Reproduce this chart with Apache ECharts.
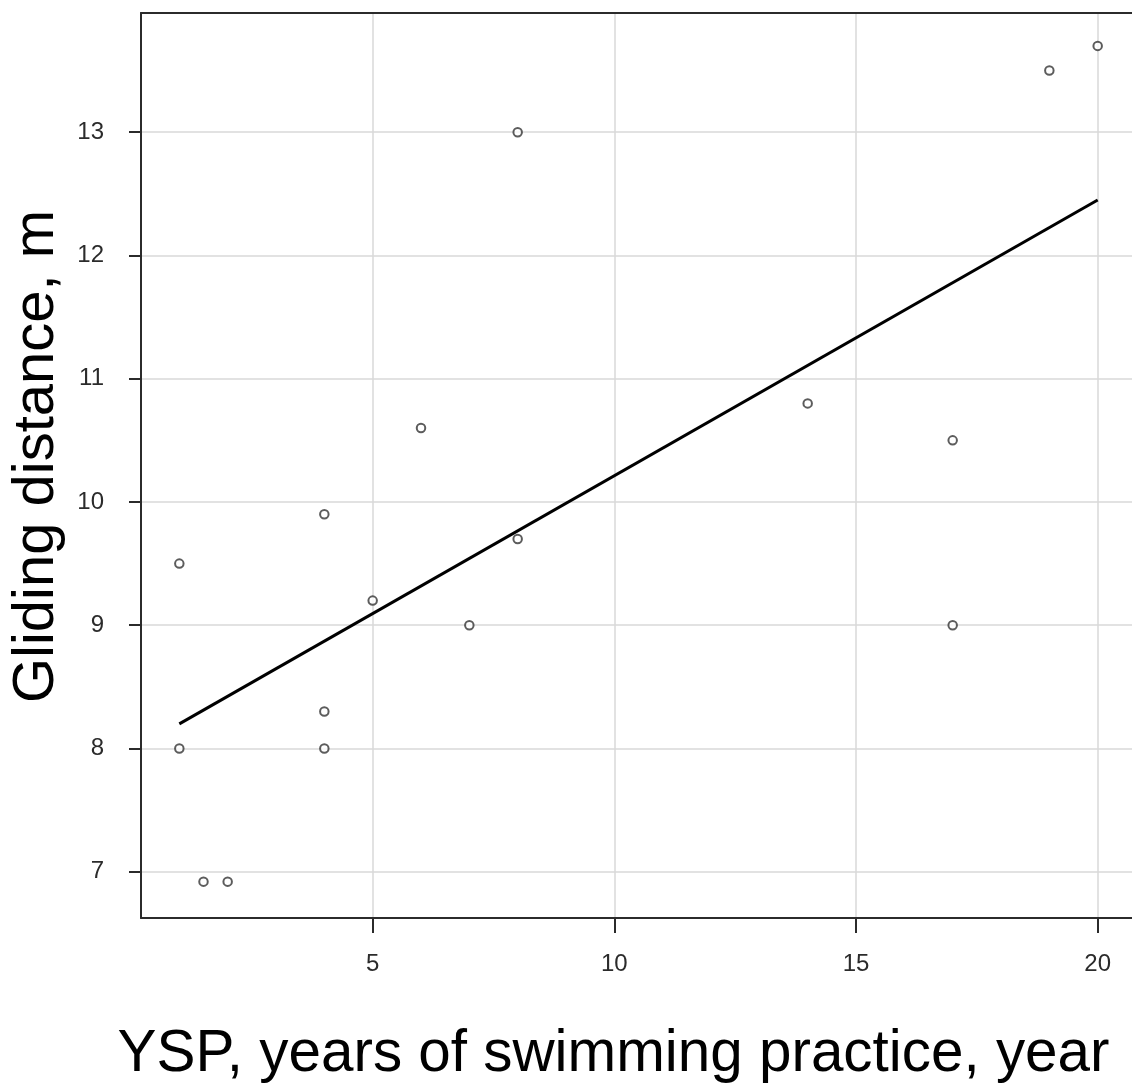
<!DOCTYPE html>
<html>
<head>
<meta charset="utf-8">
<title>Gliding distance vs YSP</title>
<script src="https://cdn.jsdelivr.net/npm/echarts@6/dist/echarts.min.js"></script>
<style>
  html, body { margin: 0; padding: 0; background: #ffffff; }
  #chart { width: 1132px; height: 1090px; }
</style>
</head>
<body>
<div id="chart"></div>
<script>
// Years of swimming practice and gliding distance for each swimmer
const ysp    = [1,   1,   1.5,  2,    4,   4,   4,   5,   6,    7,   8,    8,   14,   17,   17,  19,   20];
const glide  = [9.5, 8.0, 6.92, 6.92, 9.9, 8.3, 8.0, 9.2, 10.6, 9.0, 13.0, 9.7, 10.8, 10.5, 9.0, 13.5, 13.7];

// End points of the least-squares line
const fitX = [1, 20];
const fitY = [8.2, 12.45];

// Tick positions
const xTicks = [5, 10, 15, 20];
const yTicks = [7, 8, 9, 10, 11, 12, 13];

const xRange = [0.207, 20.71];
const yRange = [6.625, 13.967];

const FONT = '"Liberation Sans", Arial, sans-serif';
const AXIS_COLOR = '#2b2b2b';

const chart = echarts.init(document.getElementById('chart'), null, { renderer: 'canvas' });

chart.setOption({
  backgroundColor: '#ffffff',
  animation: false,
  grid: { left: 141, right: 0, top: 13, bottom: 172, containLabel: false },
  xAxis: [
    {
      type: 'value',
      position: 'bottom',
      min: xRange[0],
      max: xRange[1],
      name: 'YSP, years of swimming practice, year',
      nameLocation: 'middle',
      nameGap: 108,
      nameTextStyle: { fontFamily: FONT, fontSize: 58.4, color: '#000000', padding: [0, 46, 0, 0] },
      axisLine: { show: true, onZero: false, lineStyle: { color: AXIS_COLOR, width: 2 } },
      axisTick: { show: true, length: 15, customValues: xTicks, lineStyle: { color: AXIS_COLOR, width: 2 } },
      axisLabel: { show: true, customValues: xTicks, margin: 34, fontFamily: FONT, fontSize: 24, color: '#2b2b2b' },
      splitLine: { show: true, lineStyle: { color: '#d9d9d9', width: 1.5 } }
    },
    {
      type: 'value',
      position: 'top',
      min: xRange[0],
      max: xRange[1],
      axisLine: { show: true, onZero: false, lineStyle: { color: AXIS_COLOR, width: 2 } },
      axisTick: { show: false },
      axisLabel: { show: false },
      splitLine: { show: false }
    }
  ],
  yAxis: {
    type: 'value',
    min: yRange[0],
    max: yRange[1],
    name: 'Gliding distance, m',
    nameLocation: 'middle',
    nameGap: 69,
    nameRotate: 90,
    nameTextStyle: { fontFamily: FONT, fontSize: 58, color: '#000000', padding: [0, 0, 0, 18] },
    axisLine: { show: true, onZero: false, lineStyle: { color: AXIS_COLOR, width: 2 } },
    axisTick: { show: true, length: 12, customValues: yTicks, lineStyle: { color: AXIS_COLOR, width: 2 } },
    axisLabel: { show: true, customValues: yTicks, margin: 37, fontFamily: FONT, fontSize: 24, color: '#2b2b2b' },
    splitLine: { show: true, lineStyle: { color: '#d9d9d9', width: 1.5 } }
  },
  series: [
    {
      type: 'line',
      data: fitX.map((x, i) => [x, fitY[i]]),
      showSymbol: false,
      symbol: 'none',
      lineStyle: { color: '#000000', width: 3 },
      z: 3
    },
    {
      type: 'scatter',
      data: ysp.map((x, i) => [x, glide[i]]),
      symbol: 'circle',
      symbolSize: 8.5,
      itemStyle: { color: '#ffffff', borderColor: '#333333', borderWidth: 2 },
      z: 4
    }
  ]
});
</script>
</body>
</html>
